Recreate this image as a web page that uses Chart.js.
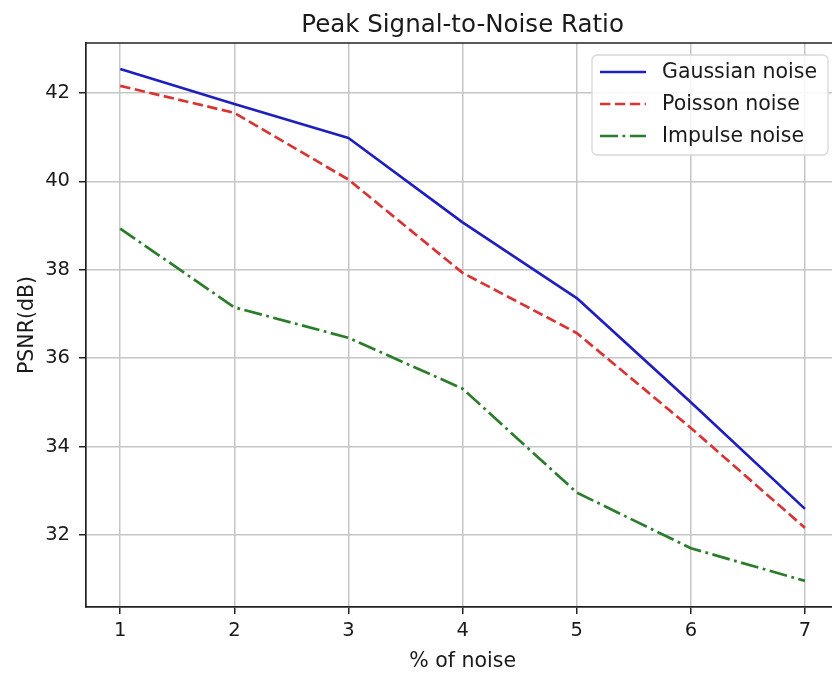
<!DOCTYPE html>
<html>
<head>
<meta charset="utf-8">
<script src="https://cdn.jsdelivr.net/npm/chart.js@4.4.0/dist/chart.umd.min.js"></script>
<style>
  html, body { margin: 0; padding: 0; background: #ffffff; overflow: hidden; }
  #c { display: block; }
</style>
</head>
<body>
<canvas id="c" width="832" height="673"></canvas>
<script>
// ---- data ----
const noiseLevels = [1, 2, 3, 4, 5, 6, 7];
const gaussian = [42.54, 41.75, 40.98, 39.07, 37.36, 35.0, 32.59];
const poisson  = [42.16, 41.55, 40.04, 37.93, 36.57, 34.42, 32.16];
const impulse  = [38.93, 37.15, 36.46, 35.31, 32.96, 31.70, 30.96];
const xTicks = [1, 2, 3, 4, 5, 6, 7];
const yTicks = [32, 34, 36, 38, 40, 42];
const seriesNames = ['Gaussian noise', 'Poisson noise', 'Impulse noise'];
const chartTitle = 'Peak Signal-to-Noise Ratio';
const xTitle = '% of noise';
const yTitle = 'PSNR(dB)';

const FONT = '"DejaVu Sans", sans-serif';
const LW = 2.7;
// full matplotlib-style axis extent is 0.7..7.3; the picture is cropped on the right
const X_MIN = 0.7, X_MAX_VISIBLE = 7.237, X_MAX_FULL = 7.3;

function pts(arr) { return noiseLevels.map((x, i) => ({ x: x, y: arr[i] })); }

const datasets = [
  { label: seriesNames[0], data: pts(gaussian), borderColor: '#1f1fbe', borderDash: [] },
  { label: seriesNames[1], data: pts(poisson),  borderColor: '#d83434', borderDash: [10.4, 4.5] },
  { label: seriesNames[2], data: pts(impulse),  borderColor: '#2b7d2b', borderDash: [18, 4.5, 2.8, 4.5] }
].map(d => Object.assign(d, {
  borderWidth: LW, pointRadius: 0, pointHoverRadius: 0, fill: false, tension: 0,
  borderCapStyle: 'butt', borderJoinStyle: 'round'
}));

const decorPlugin = {
  id: 'decor',
  afterDraw(chart) {
    const ctx = chart.ctx;
    const a = chart.chartArea;
    const xs = chart.scales.x;
    const fullRight = xs.getPixelForValue(X_MAX_FULL);
    const cx = (a.left + fullRight) / 2;
    ctx.save();
    // top spine
    ctx.strokeStyle = '#222';
    ctx.lineWidth = 1.7;
    ctx.beginPath();
    ctx.moveTo(a.left, a.top);
    ctx.lineTo(a.right + 2, a.top);
    ctx.stroke();

    // title
    ctx.fillStyle = '#1a1a1a';
    ctx.font = '24.5px ' + FONT;
    ctx.textAlign = 'center';
    ctx.textBaseline = 'alphabetic';
    ctx.fillText(chartTitle, cx, 31.5);

    // x title
    ctx.font = '20.5px ' + FONT;
    ctx.fillText(xTitle, cx, 667);

    // y title
    ctx.save();
    ctx.translate(33, (a.top + a.bottom) / 2);
    ctx.rotate(-Math.PI / 2);
    ctx.fillText(yTitle, 0, 0);
    ctx.restore();

    // legend
    const bx = 592, by = 55, bw = 236, bh = 100, r = 5;
    ctx.beginPath();
    ctx.moveTo(bx + r, by);
    ctx.arcTo(bx + bw, by, bx + bw, by + bh, r);
    ctx.arcTo(bx + bw, by + bh, bx, by + bh, r);
    ctx.arcTo(bx, by + bh, bx, by, r);
    ctx.arcTo(bx, by, bx + bw, by, r);
    ctx.closePath();
    ctx.fillStyle = 'rgba(255,255,255,0.85)';
    ctx.fill();
    ctx.strokeStyle = '#d8d8d8';
    ctx.lineWidth = 1.3;
    ctx.stroke();

    const rows = [72, 104, 136];
    chart.data.datasets.forEach((ds, i) => {
      const y = rows[i];
      ctx.strokeStyle = ds.borderColor;
      ctx.lineWidth = LW;
      ctx.setLineDash(ds.borderDash);
      ctx.lineCap = 'butt';
      ctx.beginPath();
      ctx.moveTo(600, y);
      ctx.lineTo(646, y);
      ctx.stroke();
      ctx.setLineDash([]);
      ctx.fillStyle = '#1a1a1a';
      ctx.font = '20.5px ' + FONT;
      ctx.textAlign = 'left';
      ctx.textBaseline = 'middle';
      ctx.fillText(ds.label, 662, y + 1);
    });
    ctx.restore();
  }
};

new Chart(document.getElementById('c'), {
  type: 'line',
  data: { datasets: datasets },
  options: {
    responsive: false,
    animation: false,
    events: [],
    layout: { padding: { left: 0, right: 0, top: 43, bottom: 0 } },
    plugins: { legend: { display: false }, title: { display: false }, tooltip: { enabled: false } },
    scales: {
      x: {
        type: 'linear',
        min: X_MIN, max: X_MAX_VISIBLE,
        afterFit(s) { s.height = 66; },
        afterBuildTicks(s) { s.ticks = xTicks.map(v => ({ value: v })); },
        grid: { color: '#c6c6c6', lineWidth: 1.5, tickColor: '#222', tickLength: 7, drawTicks: true },
        border: { color: '#222', width: 1.7 },
        ticks: { color: '#1a1a1a', font: { family: FONT, size: 19.5 }, padding: 5, maxRotation: 0, autoSkip: false,
                 callback: v => String(v) }
      },
      y: {
        type: 'linear',
        min: 30.37, max: 43.13,
        afterFit(s) { s.width = 86; },
        afterBuildTicks(s) { s.ticks = yTicks.map(v => ({ value: v })); },
        grid: { color: '#c6c6c6', lineWidth: 1.5, tickColor: '#222', tickLength: 7, drawTicks: true },
        border: { color: '#222', width: 1.7 },
        ticks: { color: '#1a1a1a', font: { family: FONT, size: 19.5 }, padding: 9, autoSkip: false,
                 callback: v => String(v) }
      }
    }
  },
  plugins: [decorPlugin]
});
</script>
</body>
</html>
